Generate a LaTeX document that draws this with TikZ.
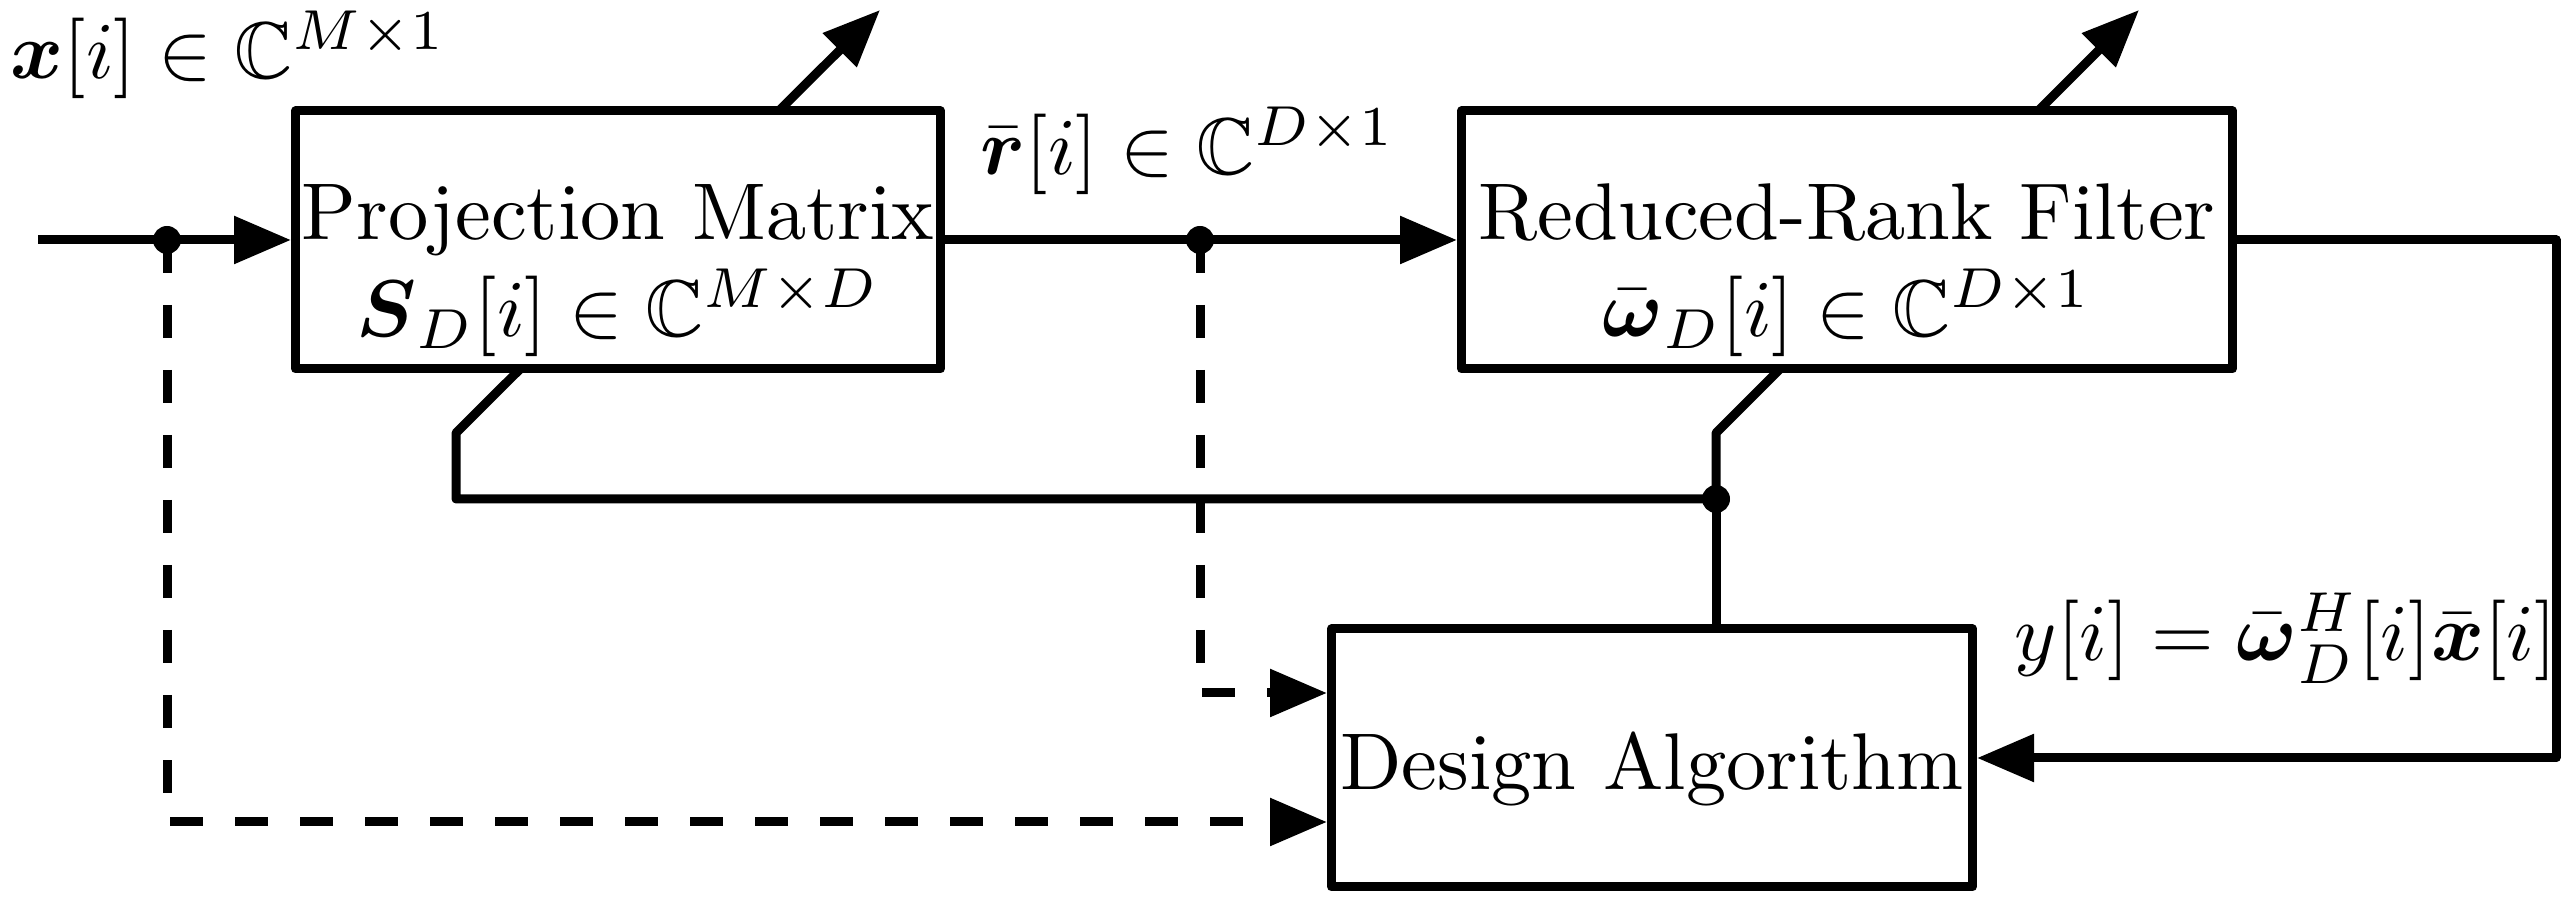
\documentclass[tikz,border=0pt]{standalone}
\usepackage{graphicx}
\usepackage{amsmath}
\usepackage{amssymb}
\usetikzlibrary{arrows.meta,positioning,backgrounds}
\tikzstyle{wire} = [line width=0.09cm, line join=round, >={Triangle[length=0.57cm,width=0.46cm]}]
\tikzstyle{dashwire} = [wire, dash pattern=on 0.33cm off 0.32cm]
\tikzstyle{block} = [rectangle, draw, fill=white, line width=0.09cm, line join=round, inner sep=0pt, minimum height=2.58cm, text height=1.2cm, text depth=1.2cm]
\tikzstyle{sig} = [inner sep=0pt, anchor=base west]
\newcommand{\bigtext}[1]{\scalebox{2.29}{#1}}

\begin{document}
\begin{tikzpicture}
\useasboundingbox (0,0) rectangle (25.72,9.01);

% Projection matrix
\node (proj) [block, minimum width=6.45cm] at (6.18,6.61) {\bigtext{%
\begin{tabular}[t]{@{}c@{}}
Projection Matrix\\
$\boldsymbol{S}_D[i]\in\mathbb{C}^{M\times D}$
\end{tabular}}};

% Reduced-rank filter
\node (filt) [block, minimum width=7.71cm, right=5.12cm of proj] {\bigtext{%
\begin{tabular}[t]{@{}c@{}}
Reduced-Rank Filter\\
$\bar{\boldsymbol{\omega}}_D[i]\in\mathbb{C}^{D\times 1}$
\end{tabular}}};

% Design algorithm
\node (alg) [block, minimum width=6.41cm, text height=0.8cm, text depth=0.16cm] at (16.52,1.43) {\bigtext{Design Algorithm}};

% Branch points
\coordinate (xin) at (0.38,6.61);
\coordinate (xdot) at (1.67,6.61);
\coordinate (rdot) at (12.00,6.61);
\coordinate (ycorner) at (25.56,6.61);
\coordinate (fbjoin) at (17.16,4.02);
\coordinate (pkink) at (4.56,4.68);
\coordinate (fkink) at (17.16,4.68);

% Signal path
\draw[wire,->] (xin) -- (proj.west);
\draw[wire,->] (proj.east) -- (filt.west);
\draw[wire,->] (filt.east) -- (ycorner) |- (alg.east);
\draw[dashwire,->] (xdot) |- ([yshift=-0.64cm]alg.west);
\draw[dashwire,->] (rdot) |- ([yshift=0.65cm]alg.west);
\draw[wire] (alg.north -| fbjoin) -- (fbjoin);

% Adaptation arrows, behind the blocks
\begin{pgfonlayer}{background}
\draw[wire,->] (fbjoin) -| (pkink) -- ++(4.24,4.23);
\draw[wire,->] (fbjoin) -- (fkink) -- ++(4.23,4.23);
\end{pgfonlayer}

\foreach \p in {xdot,rdot,fbjoin}
  \fill (\p) circle (0.14cm);

% Signal labels
\node (xlabel) [sig] at (0.10,8.22) {\bigtext{$\boldsymbol{x}[i]\in\mathbb{C}^{M\times 1}$}};
\node (rlabel) [sig] at (9.80,7.26) {\bigtext{$\bar{\boldsymbol{r}}[i]\in\mathbb{C}^{D\times 1}$}};
\node (ylabel) [sig] at (20.14,2.40) {\bigtext{$y[i]=\bar{\boldsymbol{\omega}}_D^H[i]\bar{\boldsymbol{x}}[i]$}};

\end{tikzpicture}
\end{document}
